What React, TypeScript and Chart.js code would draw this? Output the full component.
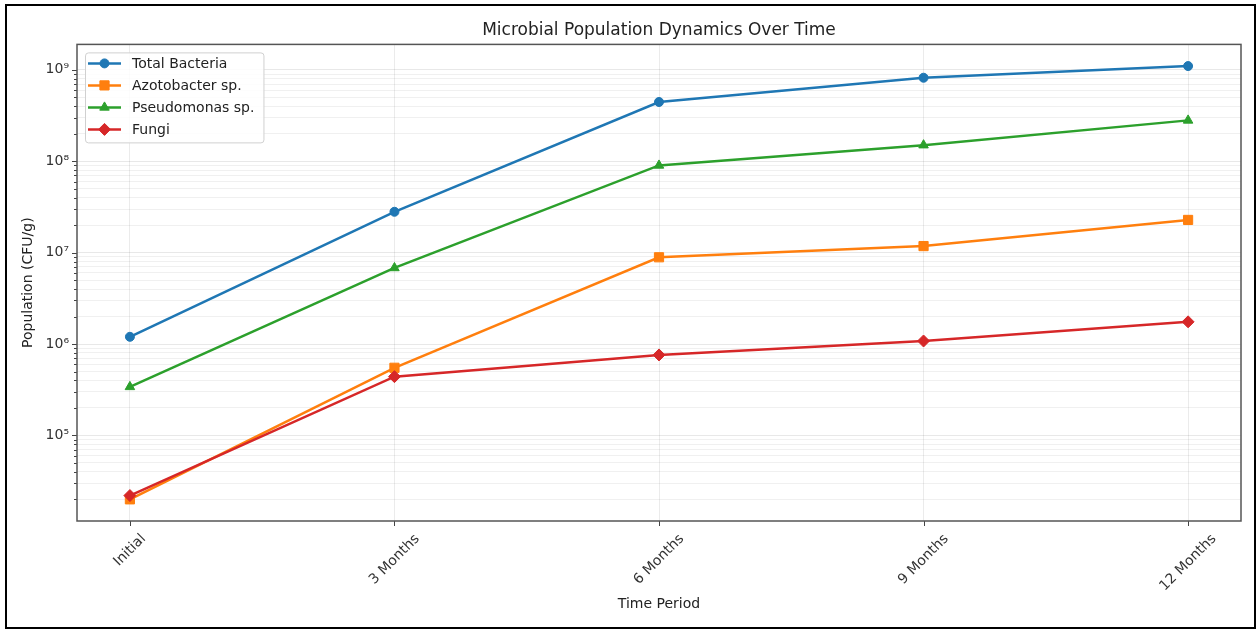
import React, { useEffect, useRef } from "react";
import { Chart, registerables } from "chart.js";
import { drawPoint } from "chart.js/helpers";

Chart.register(...registerables);

// ---- data ----
const categories = ["Initial", "3 Months", "6 Months", "9 Months", "12 Months"];
const seriesNames = ["Total Bacteria", "Azotobacter sp.", "Pseudomonas sp.", "Fungi"];
const totalBacteria = [1.2e6, 2.8e7, 4.45e8, 8.2e8, 1.1e9];
const azotobacter = [2.0e4, 5.5e5, 8.9e6, 1.18e7, 2.28e7];
const pseudomonas = [3.4e5, 6.8e6, 9.0e7, 1.5e8, 2.8e8];
const fungi = [2.2e4, 4.4e5, 7.6e5, 1.08e6, 1.75e6];

const chartTitle = "Microbial Population Dynamics Over Time";
const xTitle = "Time Period";
const yTitle = "Population (CFU/g)";

// ---- styles ----
const colors = ["#1f77b4", "#ff7f0e", "#2ca02c", "#d62728"];
const pointStyles = ["circle", "rect", "triangle", "rectRot"];
const pointRadii = [4.5, 6.5, 5.5, 6];
const FONT = "'DejaVu Sans', sans-serif";
const SUP = "⁰¹²³⁴⁵⁶⁷⁸⁹";
const supNum = (n: number) =>
  String(n)
    .split("")
    .map((d) => SUP[+d])
    .join("");

export default function App() {
  const ref = useRef<HTMLCanvasElement>(null);

  useEffect(() => {
    const canvas = ref.current!;
    const series = [totalBacteria, azotobacter, pseudomonas, fungi];
    const all = series.flat();
    const lo = Math.log10(Math.min(...all));
    const hi = Math.log10(Math.max(...all));
    const m = (hi - lo) * 0.05;
    const yMin = 10 ** (lo - m);
    const yMax = 10 ** (hi + m);
    const yTicks: { value: number; major: boolean }[] = [];
    for (let e = Math.floor(lo - m); e <= Math.ceil(hi + m); e++) {
      for (let k = 1; k <= 9; k++) {
        const v = k * 10 ** e;
        if (v >= yMin && v <= yMax) yTicks.push({ value: v, major: k === 1 });
      }
    }

    const decor = {
      id: "decor",
      afterDraw(chart: any) {
        const { ctx, chartArea: a, scales } = chart;
        const xs = scales.x;
        const ys = scales.y;
        ctx.save();
        // tick marks
        ctx.strokeStyle = "#444";
        ctx.lineWidth = 1;
        ctx.beginPath();
        yTicks.forEach((t) => {
          const py = Math.round(ys.getPixelForValue(t.value)) + 0.5;
          const len = t.major ? 5 : 3;
          ctx.moveTo(a.left - len, py);
          ctx.lineTo(a.left, py);
        });
        categories.forEach((_, i) => {
          const px = Math.round(xs.getPixelForValue(i)) + 0.5;
          ctx.moveTo(px, a.bottom);
          ctx.lineTo(px, a.bottom + 5);
        });
        ctx.stroke();
        // frame
        ctx.strokeStyle = "#555";
        ctx.lineWidth = 1.5;
        ctx.strokeRect(a.left, a.top, a.right - a.left, a.bottom - a.top);

        // x tick labels (rotated 45°, centred on tick)
        ctx.font = `14px ${FONT}`;
        ctx.fillStyle = "#333";
        categories.forEach((lab, i) => {
          const px = xs.getPixelForValue(i);
          const w = ctx.measureText(lab).width;
          const h = 16;
          const H = (w + h) * Math.SQRT1_2;
          ctx.save();
          ctx.translate(px, a.bottom + 10 + H / 2);
          ctx.rotate(-Math.PI / 4);
          ctx.textAlign = "center";
          ctx.textBaseline = "middle";
          ctx.fillText(lab, 0, 0);
          ctx.restore();
        });

        // legend
        ctx.font = `14px ${FONT}`;
        const maxW = Math.max(...seriesNames.map((s) => ctx.measureText(s).width));
        const lx = a.left + 8;
        const ly = a.top + 8;
        const lw = 47 + maxW + 9;
        const lh = 90;
        ctx.beginPath();
        if ((ctx as any).roundRect) (ctx as any).roundRect(lx + 0.5, ly + 0.5, lw, lh, 3);
        else ctx.rect(lx + 0.5, ly + 0.5, lw, lh);
        ctx.fillStyle = "rgba(255,255,255,0.85)";
        ctx.fill();
        ctx.strokeStyle = "#d0d0d0";
        ctx.lineWidth = 1;
        ctx.stroke();
        seriesNames.forEach((name, i) => {
          const ry = ly + 11 + i * 22;
          ctx.strokeStyle = colors[i];
          ctx.lineWidth = 2.5;
          ctx.beginPath();
          ctx.moveTo(lx + 3, ry);
          ctx.lineTo(lx + 36, ry);
          ctx.stroke();
          ctx.fillStyle = colors[i];
          ctx.strokeStyle = colors[i];
          ctx.lineWidth = 1;
          drawPoint(ctx, { pointStyle: pointStyles[i], radius: pointRadii[i], rotation: 0, borderWidth: 1 } as any, lx + 19.5, ry);
          ctx.fillStyle = "#222";
          ctx.textAlign = "left";
          ctx.textBaseline = "middle";
          ctx.fillText(name, lx + 47, ry + 1);
        });
        ctx.restore();
      },
    };

    const chart = new Chart(canvas, {
      type: "line",
      data: {
        datasets: series.map((vals, i) => ({
          label: seriesNames[i],
          data: vals.map((v, j) => ({ x: j, y: v })),
          borderColor: colors[i],
          backgroundColor: colors[i],
          borderWidth: 2.5,
          pointStyle: pointStyles[i] as any,
          pointRadius: pointRadii[i],
          pointBackgroundColor: colors[i],
          pointBorderColor: colors[i],
          pointBorderWidth: 1,
          tension: 0,
          fill: false,
          order: series.length - 1 - i,
        })),
      },
      options: {
        responsive: false,
        animation: false,
        devicePixelRatio: 1,
        layout: { padding: { left: 8, right: 17, top: 0, bottom: 0 } },
        plugins: {
          legend: { display: false },
          tooltip: { enabled: false },
          title: {
            display: true,
            text: chartTitle,
            fullSize: false,
            color: "#222",
            font: { family: FONT, size: 17, weight: "normal" },
            padding: { top: 20, bottom: 4 },
          },
        },
        scales: {
          x: {
            type: "linear",
            min: -0.2,
            max: 4.2,
            afterBuildTicks: (s: any) => {
              s.ticks = categories.map((_, i) => ({ value: i }));
            },
            afterFit: (s: any) => {
              s.height = 110;
            },
            ticks: { display: false },
            grid: { drawTicks: false, color: "rgba(0,0,0,0.08)", lineWidth: 1 },
            border: { display: false },
            title: {
              display: true,
              text: xTitle,
              color: "#222",
              font: { family: FONT, size: 14 },
              padding: { top: 0, bottom: 18 },
            },
          },
          y: {
            type: "logarithmic",
            min: yMin,
            max: yMax,
            afterBuildTicks: (s: any) => {
              s.ticks = yTicks.map((t) => ({ value: t.value, major: t.major }));
            },
            afterFit: (s: any) => {
              s.width = 69;
            },
            ticks: {
              autoSkip: false,
              padding: 8,
              color: "#333",
              font: { family: FONT, size: 14 },
              callback: (value: any, index: number) =>
                yTicks[index] && yTicks[index].major
                  ? `10${supNum(Math.round(Math.log10(Number(value))))}`
                  : "",
            },
            grid: {
              drawTicks: false,
              lineWidth: 1,
              color: (c: any) => (c.tick && c.tick.major ? "rgba(0,0,0,0.09)" : "rgba(0,0,0,0.06)"),
            },
            border: { display: false },
            title: {
              display: true,
              text: yTitle,
              color: "#222",
              font: { family: FONT, size: 14 },
              padding: { top: 12, bottom: 0 },
            },
          },
        },
      },
      plugins: [decor],
    });

    return () => chart.destroy();
  }, []);

  return (
    <div style={{ position: "fixed", left: 0, top: 0, width: 1258, height: 631, background: "#fff" }}>
      <canvas ref={ref} width={1258} height={631} style={{ display: "block" }} />
      <div
        style={{
          position: "absolute",
          left: 5,
          top: 4,
          width: 1251,
          height: 625,
          border: "2px solid #000",
          boxSizing: "border-box",
          pointerEvents: "none",
        }}
      />
    </div>
  );
}
